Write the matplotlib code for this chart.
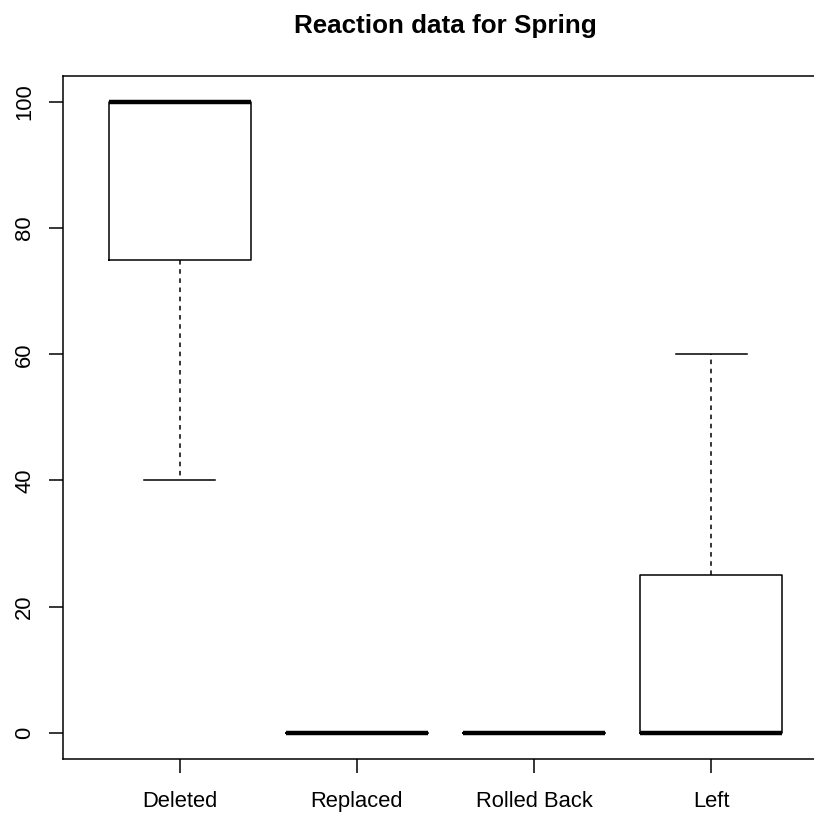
import matplotlib.pyplot as plt

plt.rcParams['font.family'] = ['Liberation Sans', 'DejaVu Sans']

categories = ['Deleted', 'Replaced', 'Rolled Back', 'Left']
whislo = [40, 0, 0, 0]
q1 = [75, 0, 0, 0]
med = [100, 0, 0, 0]
q3 = [100, 0, 0, 25]
whishi = [100, 0, 0, 60]
yticks = [0, 20, 40, 60, 80, 100]

stats = []
for name, lo, a, m, b, hi in zip(categories, whislo, q1, med, q3, whishi):
    stats.append(dict(label=name, whislo=lo, q1=a, med=m, q3=b, whishi=hi, fliers=[]))

fig = plt.figure(figsize=(8.14, 8.13), dpi=100)
# the plot region in the original runs past the right edge of the image
ax = fig.add_axes([63/814, 1 - 759/813, 765/814, (759 - 75.7)/813])

ax.bxp(stats, positions=[1, 2, 3, 4], widths=0.8, capwidths=0.4,
       boxprops=dict(color='black', lw=1.1),
       whiskerprops=dict(color='black', lw=1.1, linestyle=(0, (3, 3))),
       capprops=dict(color='black', lw=1.1),
       medianprops=dict(color='black', lw=3.2, solid_capstyle='butt'),
       showfliers=False)

ax.set_xlim(0.34, 4.66)
ax.set_ylim(-4.16, 104.16)
ax.set_xticks([1, 2, 3, 4])
ax.set_xticklabels(categories)
ax.set_yticks(yticks)
ax.set_yticklabels([str(v) for v in yticks], rotation=90, va='center')
ax.tick_params(axis='both', length=10, width=1.1, labelsize=15.8)
ax.tick_params(axis='y', pad=10)
ax.tick_params(axis='x', pad=13)
ax.spines['right'].set_visible(False)
for s in ['left', 'top', 'bottom']:
    ax.spines[s].set_linewidth(1.1)

ax.set_title('Reaction data for Spring', fontsize=18.7, fontweight='bold', pad=31)

fig.savefig('out.png', dpi=100)
